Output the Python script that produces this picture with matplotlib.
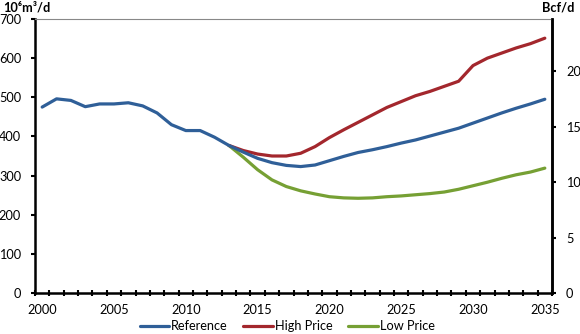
import matplotlib
matplotlib.use("Agg")
import matplotlib.pyplot as plt
import numpy as np

plt.rcParams['font.family'] = ['Lato', 'DejaVu Sans']

years_ref = list(range(2000, 2036))
reference = [475, 496, 492, 476, 483, 483, 486, 478, 460, 430, 415, 415, 398, 377,
             360, 344, 333, 326, 323, 327, 338, 349, 359, 366, 374, 383, 391, 401,
             411, 421, 434, 447, 460, 472, 483, 495]
years_alt = list(range(2013, 2036))
high_price = [377, 364, 355, 350, 350, 357, 374, 397, 417, 436, 455, 474, 489, 504,
              515, 528, 541, 581, 600, 613, 626, 637, 651]
low_price = [377, 347, 315, 289, 272, 261, 253, 246, 243, 242, 243, 246, 248, 251,
             254, 258, 265, 274, 283, 293, 302, 309, 319]

left_ticks = [0, 100, 200, 300, 400, 500, 600, 700]
right_ticks = [0, 5, 10, 15, 20]
x_labels = [2000, 2005, 2010, 2015, 2020, 2025, 2030, 2035]

c_ref = '#2f5f98'
c_high = '#a3272d'
c_low = '#76a034'

fs = 9.2

fig = plt.figure(figsize=(5.8, 3.34), dpi=100)
ax = fig.add_axes([35/580, 1-293/334, (552-35)/580, (293-19)/334])

lw = 2.3
ax.plot(years_alt, low_price, color=c_low, lw=lw, label='Low Price', zorder=3,
        solid_capstyle='round')
ax.plot(years_alt, high_price, color=c_high, lw=lw, label='High Price', zorder=3,
        solid_capstyle='round')
ax.plot(years_ref, reference, color=c_ref, lw=lw, label='Reference', zorder=4,
        solid_capstyle='round')

ax.set_xlim(1999.5, 2035.5)
ax.set_ylim(0, 700)
ax.set_yticks(left_ticks)
ax.set_xticks(x_labels)
ax.set_xticks(np.arange(1999.5, 2036, 1.0), minor=True)
ax.tick_params(axis='x', which='major', length=0, pad=8, labelsize=fs)
ax.tick_params(axis='x', which='minor', length=4, width=1.5, direction='inout', color='black')
ax.tick_params(axis='y', which='major', length=3, width=1.5, pad=7, labelsize=fs,
               direction='out')

for s in ['left', 'bottom', 'right']:
    ax.spines[s].set_linewidth(1.8)
    ax.spines[s].set_color('black')
ax.spines['top'].set_color('#888888')
ax.spines['top'].set_linewidth(0.8)

ax2 = ax.twinx()
ax2.set_ylim(0, 700/28.3168)
ax2.set_yticks(right_ticks)
ax2.tick_params(axis='y', length=3, width=1.5, pad=7, labelsize=fs, direction='out')
for s in ['left', 'bottom', 'top']:
    ax2.spines[s].set_visible(False)
ax2.spines['right'].set_linewidth(1.8)
ax2.spines['right'].set_color('black')

fig.text(3/580, 1-8/334, '10\u2076m\u00b3/d', fontsize=fs, fontweight='bold',
         ha='left', va='center')
fig.text(574/580, 1-8/334, 'Bcf/d', fontsize=fs, fontweight='bold',
         ha='right', va='center')

h, l = ax.get_legend_handles_labels()
order = [2, 1, 0]
fig.legend([h[i] for i in order], [l[i] for i in order], loc='center',
           bbox_to_anchor=(287/580, 1-326/334), ncol=3, frameon=False,
           fontsize=fs, handlelength=2.3, handletextpad=0.15, columnspacing=1.25,
           borderpad=0, borderaxespad=0)

fig.savefig('out.png', dpi=100)
